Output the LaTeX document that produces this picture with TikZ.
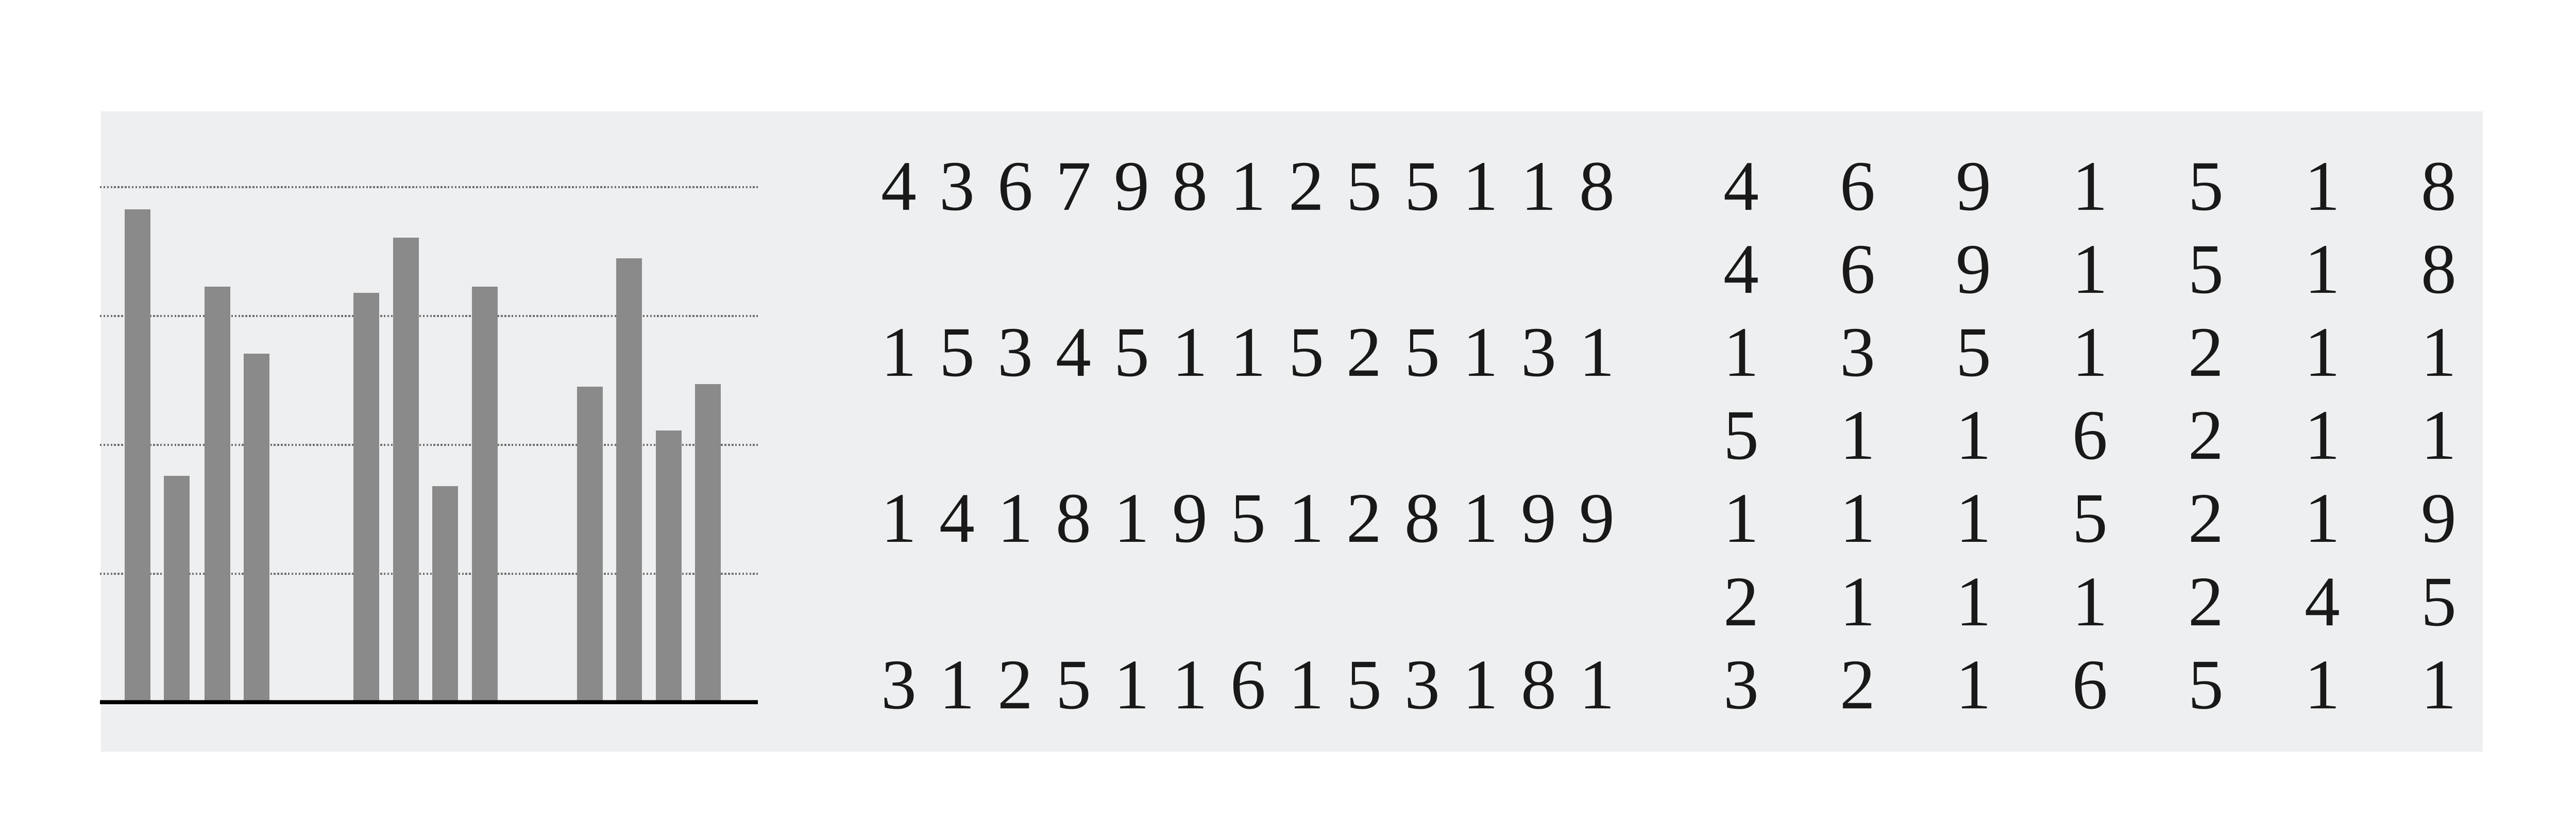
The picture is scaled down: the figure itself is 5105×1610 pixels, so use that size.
\documentclass[tikz,border=0pt]{standalone}
\usepackage{fontspec}
\setmainfont{Liberation Serif}
\usepackage{tikz}
\definecolor{paper}{HTML}{EEEFF0}
\definecolor{barfill}{HTML}{8A8A8A}
\definecolor{gridgray}{HTML}{6E6E6E}
\tikzset{digit/.style={anchor=base, inner sep=0pt, font=\fontsize{40}{40}\selectfont, text=black!90}}

\begin{document}
\begin{tikzpicture}[x=0.01cm, y=-0.01cm]
  \useasboundingbox (0,0) rectangle (5105,1610);
  \fill[paper] (200,221) rectangle (4920,1489);

  \def\base{1391}
  \def\unit{255}
  \coordinate (O) at (198,\base);
  \coordinate (E) at (1502,\base);

  \foreach \k in {1,...,4}
    \draw[gridgray, line width=1.2pt, dash pattern=on 1pt off 1pt] (198,{\base-\k*\unit}) -- (1502,{\base-\k*\unit});

  \foreach \bx/\bh in {247/3.83, 325/1.76, 405/3.23, 483/2.71, 700/3.18, 779/3.61, 857/1.68, 935/3.23, 1144/2.45, 1221/3.45, 1300/2.11, 1377/2.47}
    \fill[barfill] (\bx,\base) rectangle ++(51,{-\bh*\unit});

  \draw[line width=2.3pt] (O) -- (E);

  \foreach \row [count=\r from 0] in {{4,3,6,7,9,8,1,2,5,5,1,1,8},{1,5,3,4,5,1,1,5,2,5,1,3,1},{1,4,1,8,1,9,5,1,2,8,1,9,9},{3,1,2,5,1,1,6,1,5,3,1,8,1}}
    \foreach \d [count=\c from 0] in \row
      \node[digit] (L-\r-\c) at ({1782+115.25*\c},{416+329*\r}) {\d};

  \foreach \row [count=\r from 0] in {{4,6,9,1,5,1,8},{4,6,9,1,5,1,8},{1,3,5,1,2,1,1},{5,1,1,6,2,1,1},{1,1,1,5,2,1,9},{2,1,1,1,2,4,5},{3,2,1,6,5,1,1}}
    \foreach \d [count=\c from 0] in \row
      \node[digit] (R-\r-\c) at ({3451+230.3*\c},{416+164.5*\r}) {\d};
\end{tikzpicture}
\end{document}
